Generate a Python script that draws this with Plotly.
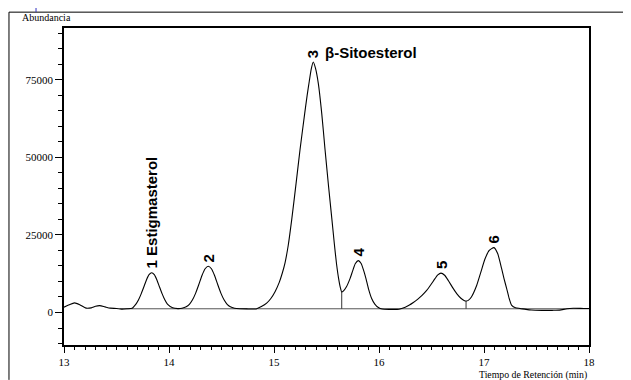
import plotly.graph_objects as go

# Retention time (min) and abundance
time_min = [13.00, 13.05, 13.10, 13.15, 13.21, 13.26, 13.30, 13.34, 13.39, 13.44, 13.50, 13.55, 13.60,
            13.65, 13.685, 13.71, 13.735, 13.76, 13.785, 13.81, 13.835, 13.86, 13.885, 13.91, 13.935,
            13.96, 13.985, 14.035, 14.085,
            14.124, 14.164, 14.194, 14.224, 14.254, 14.284, 14.314, 14.344, 14.374, 14.404, 14.434,
            14.464, 14.494, 14.524, 14.554, 14.584, 14.624, 14.674, 14.75, 14.83,
            14.88, 14.93, 14.97, 15.01, 15.05, 15.08, 15.105, 15.135, 15.169, 15.21, 15.248, 15.29,
            15.315, 15.336, 15.355, 15.374, 15.395, 15.422, 15.455, 15.486, 15.52, 15.55, 15.575,
            15.595, 15.615, 15.632, 15.645,
            15.66, 15.69, 15.724, 15.75, 15.775, 15.803, 15.83, 15.855, 15.876, 15.90, 15.93, 15.96,
            15.994, 16.03, 16.10, 16.19,
            16.25, 16.29, 16.327, 16.37, 16.41, 16.454, 16.495, 16.533, 16.56, 16.59, 16.625, 16.66,
            16.70, 16.74, 16.78, 16.81, 16.829,
            16.85, 16.88, 16.93, 16.97, 17.01, 17.05, 17.095, 17.13, 17.168, 17.19, 17.216, 17.24,
            17.264, 17.30, 17.343, 17.40, 17.45, 17.55, 17.65, 17.72, 17.79, 17.85, 17.95, 18.00]
abundance = [1700, 2500, 3100, 2500, 1400, 1500, 2000, 2200, 1800, 1400, 1300, 1100, 1200,
             1400, 2700, 4100, 6000, 8200, 10500, 12200, 12800, 12200, 10500, 8200, 6000,
             4100, 2700, 1500, 1250,
             1380, 1850, 2650, 4100, 6250, 9000, 11900, 14100, 14900, 14100, 11900,
             9000, 6250, 4100, 2650, 1850, 1380, 1200, 1150, 1150,
             1900, 3000, 4500, 6700, 9700, 12800, 16000, 21500, 30000, 41500, 52500, 63500,
             69800, 74500, 78500, 80700, 78700, 73800, 64000, 52500, 40500, 30500, 22000,
             15800, 11000, 8000, 6600,
             6900, 8300, 10900, 13500, 15800, 16700, 15800, 13400, 10900, 7600, 4500, 2700,
             1600, 1100, 1000, 1050,
             1700, 2400, 3200, 4300, 5500, 7100, 9000, 10900, 12100, 12700, 12000, 10300,
             8100, 6100, 4600, 3900, 3700,
             3900, 5000, 8700, 13000, 17300, 20000, 20900, 19000, 14100, 11000, 7700, 4500,
             2300, 1500, 1300, 1000, 800, 700, 700, 750, 1200, 1350, 1300, 1300]

# Integration baseline and peak drop lines
baseline_x = [13.53, 18.0]
baseline_y = [1200, 1200]
drop_times = [15.645, 16.829]
drop_tops = [6600, 3700]

# Peak labels
peak_times = [13.835, 14.374, 15.374, 15.803, 16.59, 17.095]
peak_heights = [12800, 14900, 80700, 16700, 12700, 20900]
peak_labels = ["1 Estigmasterol", "2", "3", "4", "5", "6"]
name_label = "β-Sitoesterol"

y_tick_vals = [0, 25000, 50000, 75000]
x_tick_vals = [13, 14, 15, 16, 17, 18]

fig = go.Figure()
fig.add_trace(go.Scatter(x=baseline_x, y=baseline_y, mode="lines",
                         line=dict(color="#555555", width=1), hoverinfo="skip"))
dx, dy = [], []
for t, top in zip(drop_times, drop_tops):
    dx += [t, t, None]
    dy += [top, baseline_y[0], None]
fig.add_trace(go.Scatter(x=dx, y=dy, mode="lines",
                         line=dict(color="#333333", width=1), hoverinfo="skip"))
fig.add_trace(go.Scatter(x=time_min, y=abundance, mode="lines",
                         line=dict(color="black", width=1.1, shape="spline", smoothing=0.6)))

for t, h, lab in zip(peak_times, peak_heights, peak_labels):
    fig.add_annotation(x=t, y=h, text=lab, textangle=-90, showarrow=False,
                       xanchor="center", yanchor="bottom", yshift=2,
                       font=dict(family="Liberation Sans, Arial", size=15, color="black", weight="bold"))
fig.add_annotation(x=peak_times[2], y=peak_heights[2], text=name_label, showarrow=False,
                   xanchor="left", yanchor="middle", xshift=10, yshift=9,
                   font=dict(family="Liberation Sans, Arial", size=15, color="black", weight="bold"))

fig.add_annotation(xref="paper", yref="paper", x=-0.084, y=1.034, text="Abundancia",
                   showarrow=False, xanchor="left", yanchor="middle",
                   font=dict(family="Liberation Serif, Times New Roman", size=10, color="black"))
fig.add_annotation(xref="paper", yref="paper", x=1.0, y=-0.094, text="Tiempo de Retención (min)",
                   showarrow=False, xanchor="right", yanchor="middle",
                   font=dict(family="Liberation Serif, Times New Roman", size=9.8, color="black"))

# outer frame lines
fig.add_shape(type="line", xref="paper", yref="paper", x0=-0.1048, x1=-0.1048, y0=1.050, y1=-0.11,
              line=dict(color="black", width=1))
fig.add_shape(type="line", xref="paper", yref="paper", x0=-0.1048, x1=1.072, y0=1.050, y1=1.050,
              line=dict(color="black", width=1))
# small blue marks on the frame
fig.add_shape(type="line", xref="paper", yref="paper", x0=-0.0533, x1=-0.0533, y0=1.050, y1=1.066,
              line=dict(color="#3030c0", width=1))
fig.add_shape(type="line", xref="paper", yref="paper", x0=1.072, x1=1.072, y0=1.050, y1=1.058,
              line=dict(color="#3030c0", width=1))

# The page body has an 8px margin, so the figure is drawn 8px smaller and offset
fig.update_layout(
    width=623, height=372,
    margin=dict(l=56, r=42, t=20, b=33),
    paper_bgcolor="white", plot_bgcolor="white",
    showlegend=False,
    font=dict(family="Liberation Serif, Times New Roman", size=11, color="black"),
)
fig.update_xaxes(range=[13, 18], tickvals=x_tick_vals, ticks="outside", ticklen=6,
                 tickcolor="black", showline=True, linecolor="black", linewidth=1.5, mirror=True,
                 showgrid=False, zeroline=False,
                 minor=dict(dtick=0.1, ticks="outside", ticklen=3, tickcolor="black", showgrid=False),
                 tickfont=dict(family="Liberation Serif, Times New Roman", size=11))
fig.update_yaxes(range=[-10470, 91650], tickvals=y_tick_vals, tickformat="d", ticks="outside",
                 ticklen=7, tickcolor="black", showline=True, linecolor="black", linewidth=1.5,
                 mirror=True, showgrid=False, zeroline=False,
                 minor=dict(dtick=5000, ticks="outside", ticklen=4, tickcolor="black", showgrid=False),
                 tickfont=dict(family="Liberation Serif, Times New Roman", size=11))

fig.write_html("out.html")
